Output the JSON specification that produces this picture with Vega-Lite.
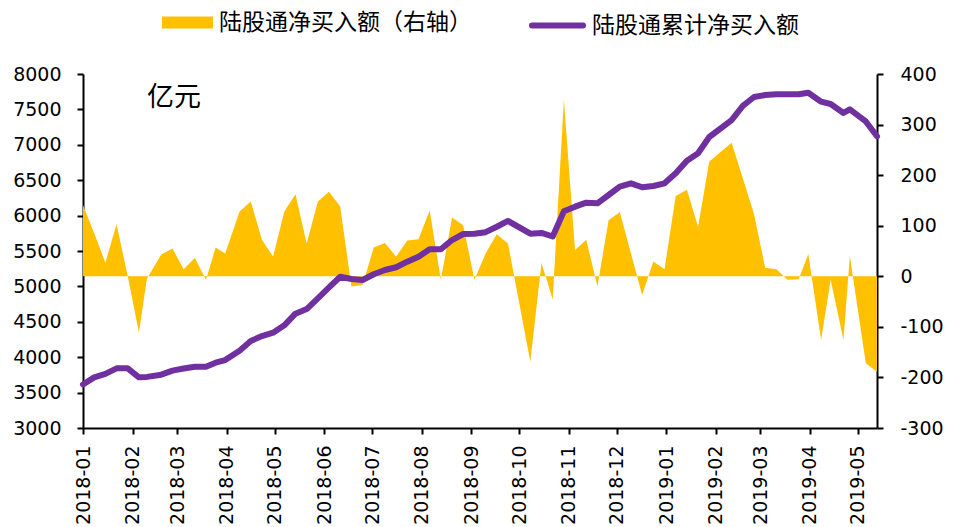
{
  "$schema": "https://vega.github.io/schema/vega-lite/v6.json",
  "width": 794,
  "height": 354,
  "autosize": "none",
  "padding": {"left": 83, "top": 74, "right": 76, "bottom": 99},
  "background": "white",
  "config": {
    "view": {"stroke": null},
    "axis": {
      "grid": false,
      "domainColor": "#000",
      "tickColor": "#000",
      "labelColor": "#000",
      "labelFont": "DejaVu Sans",
      "labelFontSize": 19,
      "domainWidth": 2,
      "tickWidth": 2,
      "tickSize": 6,
      "labelOverlap": false
    }
  },
  "data": {
    "values": [
      {"date": "2018-01-05", "w": 141, "c": 3615},
      {"date": "2018-01-12", "w": 85, "c": 3715},
      {"date": "2018-01-19", "w": 27, "c": 3765},
      {"date": "2018-01-26", "w": 103, "c": 3843},
      {"date": "2018-02-02", "w": 0, "c": 3843},
      {"date": "2018-02-09", "w": -111, "c": 3716},
      {"date": "2018-02-14", "w": -5, "c": 3722},
      {"date": "2018-02-23", "w": 43, "c": 3753},
      {"date": "2018-03-02", "w": 55, "c": 3810},
      {"date": "2018-03-09", "w": 14, "c": 3840},
      {"date": "2018-03-16", "w": 36, "c": 3866},
      {"date": "2018-03-23", "w": -7, "c": 3866},
      {"date": "2018-03-29", "w": 57, "c": 3923},
      {"date": "2018-04-04", "w": 45, "c": 3960},
      {"date": "2018-04-13", "w": 128, "c": 4092},
      {"date": "2018-04-20", "w": 148, "c": 4229},
      {"date": "2018-04-27", "w": 72, "c": 4299},
      {"date": "2018-05-04", "w": 39, "c": 4346},
      {"date": "2018-05-11", "w": 128, "c": 4450},
      {"date": "2018-05-18", "w": 162, "c": 4615},
      {"date": "2018-05-25", "w": 65, "c": 4680},
      {"date": "2018-06-01", "w": 148, "c": 4831},
      {"date": "2018-06-08", "w": 167, "c": 4987},
      {"date": "2018-06-15", "w": 138, "c": 5137},
      {"date": "2018-06-22", "w": -20, "c": 5105},
      {"date": "2018-06-29", "w": -17, "c": 5090},
      {"date": "2018-07-06", "w": 57, "c": 5171},
      {"date": "2018-07-13", "w": 66, "c": 5232},
      {"date": "2018-07-20", "w": 39, "c": 5270},
      {"date": "2018-07-27", "w": 71, "c": 5349},
      {"date": "2018-08-03", "w": 73, "c": 5420},
      {"date": "2018-08-10", "w": 130, "c": 5524},
      {"date": "2018-08-17", "w": -7, "c": 5524},
      {"date": "2018-08-24", "w": 116, "c": 5655},
      {"date": "2018-08-31", "w": 101, "c": 5740},
      {"date": "2018-09-07", "w": -7, "c": 5744},
      {"date": "2018-09-14", "w": 45, "c": 5766},
      {"date": "2018-09-21", "w": 83, "c": 5843},
      {"date": "2018-09-28", "w": 65, "c": 5925},
      {"date": "2018-10-12", "w": -169, "c": 5745},
      {"date": "2018-10-19", "w": 27, "c": 5755},
      {"date": "2018-10-26", "w": -46, "c": 5705},
      {"date": "2018-11-02", "w": 349, "c": 6060},
      {"date": "2018-11-09", "w": 52, "c": 6126},
      {"date": "2018-11-16", "w": 72, "c": 6183},
      {"date": "2018-11-23", "w": -20, "c": 6173},
      {"date": "2018-11-30", "w": 111, "c": 6291},
      {"date": "2018-12-07", "w": 127, "c": 6409},
      {"date": "2018-12-14", "w": 45, "c": 6456},
      {"date": "2018-12-21", "w": -37, "c": 6400},
      {"date": "2018-12-28", "w": 29, "c": 6418},
      {"date": "2019-01-04", "w": 14, "c": 6456},
      {"date": "2019-01-11", "w": 159, "c": 6597},
      {"date": "2019-01-18", "w": 171, "c": 6775},
      {"date": "2019-01-25", "w": 98, "c": 6880},
      {"date": "2019-02-01", "w": 227, "c": 7110},
      {"date": "2019-02-15", "w": 264, "c": 7350},
      {"date": "2019-02-22", "w": 194, "c": 7550},
      {"date": "2019-03-01", "w": 123, "c": 7675},
      {"date": "2019-03-08", "w": 17, "c": 7703},
      {"date": "2019-03-15", "w": 14, "c": 7713},
      {"date": "2019-03-22", "w": -7, "c": 7713},
      {"date": "2019-03-29", "w": -6, "c": 7713},
      {"date": "2019-04-04", "w": 44, "c": 7735},
      {"date": "2019-04-12", "w": -126, "c": 7609},
      {"date": "2019-04-18", "w": -7, "c": 7576},
      {"date": "2019-04-26", "w": -126, "c": 7450},
      {"date": "2019-04-30", "w": 40, "c": 7500},
      {"date": "2019-05-10", "w": -172, "c": 7330},
      {"date": "2019-05-17", "w": -189, "c": 7120}
    ]
  },
  "encoding": {
    "x": {
      "field": "date",
      "type": "temporal",
      "scale": {
        "type": "utc",
        "domain": [
          {"year": 2018, "month": 1, "date": 5, "utc": true},
          {"year": 2019, "month": 5, "date": 17, "utc": true}
        ]
      },
      "axis": {
        "title": null,
        "format": "%Y-%m",
        "labelAngle": -90,
        "labelPadding": 11,
        "values": [
          {"year": 2018, "month": 1, "date": 5, "utc": true},
          {"year": 2018, "month": 2, "date": 5, "utc": true},
          {"year": 2018, "month": 3, "date": 5, "utc": true},
          {"year": 2018, "month": 4, "date": 5, "utc": true},
          {"year": 2018, "month": 5, "date": 5, "utc": true},
          {"year": 2018, "month": 6, "date": 5, "utc": true},
          {"year": 2018, "month": 7, "date": 5, "utc": true},
          {"year": 2018, "month": 8, "date": 5, "utc": true},
          {"year": 2018, "month": 9, "date": 5, "utc": true},
          {"year": 2018, "month": 10, "date": 5, "utc": true},
          {"year": 2018, "month": 11, "date": 5, "utc": true},
          {"year": 2018, "month": 12, "date": 5, "utc": true},
          {"year": 2019, "month": 1, "date": 5, "utc": true},
          {"year": 2019, "month": 2, "date": 5, "utc": true},
          {"year": 2019, "month": 3, "date": 5, "utc": true},
          {"year": 2019, "month": 4, "date": 5, "utc": true},
          {"year": 2019, "month": 5, "date": 5, "utc": true}
        ]
      }
    }
  },
  "layer": [
    {
      "mark": {"type": "area", "opacity": 1},
      "encoding": {
        "y": {
          "field": "w",
          "type": "quantitative",
          "scale": {"domain": [-300, 400], "nice": false, "zero": false},
          "axis": {
            "orient": "right",
            "title": null,
            "values": [-300, -200, -100, 0, 100, 200, 300, 400],
            "labelExpr": "'' + datum.value",
            "labelPadding": 17
          }
        },
        "y2": {"datum": 0},
        "fill": {
          "datum": "陆股通净买入额（右轴）",
          "type": "nominal",
          "scale": {"range": ["#FFC000"]},
          "legend": {
            "orient": "none",
            "legendX": 79,
            "legendY": -77,
            "title": null,
            "symbolType": "M-1,-0.235H1V0.235H-1Z",
            "symbolSize": 2601,
            "symbolStrokeWidth": 0,
            "symbolOpacity": 1,
            "labelFont": "Noto Sans CJK SC",
            "labelFontSize": 23,
            "labelColor": "#000",
            "labelOffset": 6,
            "labelLimit": 400
          }
        }
      }
    },
    {
      "layer": [
        {
          "mark": {"type": "line", "strokeWidth": 6, "strokeJoin": "round", "strokeCap": "round"},
          "encoding": {
            "y": {
              "field": "c",
              "type": "quantitative",
              "scale": {"domain": [3000, 8000], "nice": false, "zero": false},
              "axis": {
                "orient": "left",
                "title": null,
                "values": [3000, 3500, 4000, 4500, 5000, 5500, 6000, 6500, 7000, 7500, 8000],
                "labelExpr": "'' + datum.value",
                "labelPadding": 16
              }
            },
            "stroke": {
              "datum": "陆股通累计净买入额",
              "type": "nominal",
              "scale": {"range": ["#7030A0"]},
              "legend": {
                "orient": "none",
                "legendX": 446,
                "legendY": -77,
                "title": null,
                "symbolType": "stroke",
                "symbolSize": 2601,
                "symbolStrokeWidth": 6,
                "symbolOpacity": 1,
                "labelFont": "Noto Sans CJK SC",
                "labelFontSize": 23,
                "labelColor": "#000",
                "labelOffset": 6,
                "labelLimit": 400,
                "encode": {"symbols": {"update": {"strokeCap": {"value": "round"}}}}
              }
            }
          }
        },
        {
          "data": {"values": [{"date": "2018-03-03", "c": 7660, "t": "亿元"}]},
          "mark": {"type": "text", "font": "Noto Sans CJK SC", "fontSize": 27, "color": "#000", "align": "center", "baseline": "middle"},
          "encoding": {
            "y": {
              "field": "c",
              "type": "quantitative",
              "axis": {
                "orient": "left",
                "title": null,
                "values": [3000, 3500, 4000, 4500, 5000, 5500, 6000, 6500, 7000, 7500, 8000],
                "labelExpr": "'' + datum.value",
                "labelPadding": 16
              }
            },
            "text": {"field": "t", "type": "nominal"}
          }
        }
      ]
    }
  ],
  "resolve": {"scale": {"y": "independent"}}
}
